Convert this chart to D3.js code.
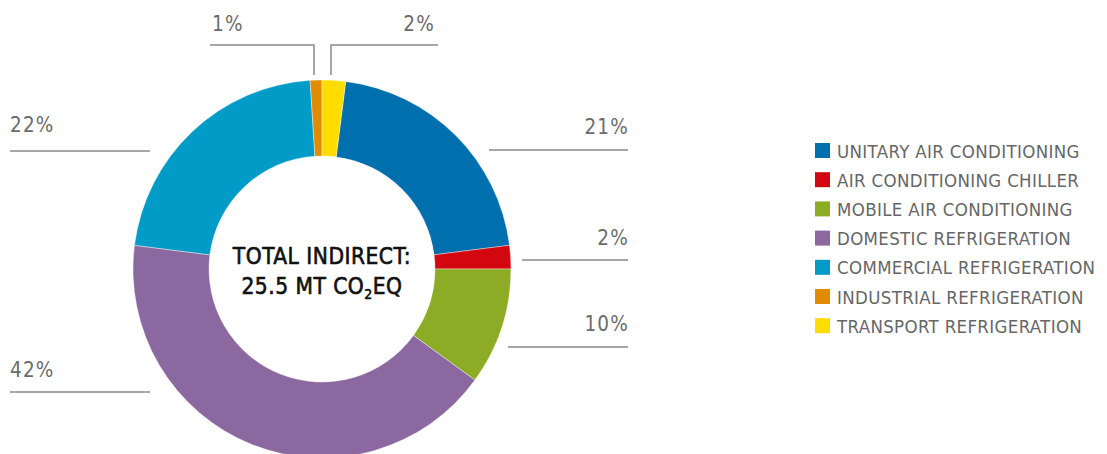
<!DOCTYPE html>
<html>
<head>
<meta charset="utf-8">
<script src="https://cdn.jsdelivr.net/npm/d3@7"></script>
<style>
  body { margin: 0; background: #fff; }
  text { font-family: "DejaVu Sans Condensed", "DejaVu Sans", sans-serif; }
</style>
</head>
<body>
<svg id="chart" width="1107" height="454"></svg>
<script>
const categories = [
  "UNITARY AIR CONDITIONING",
  "AIR CONDITIONING CHILLER",
  "MOBILE AIR CONDITIONING",
  "DOMESTIC REFRIGERATION",
  "COMMERCIAL REFRIGERATION",
  "INDUSTRIAL REFRIGERATION",
  "TRANSPORT REFRIGERATION"
];
const shares = [21, 2, 10, 42, 22, 1, 2];
const colors = ["#006fae", "#d2070f", "#8dac25", "#8c68a0", "#009bc7", "#e18b00", "#ffdd00"];
const totalLines = ["TOTAL INDIRECT:", "25.5 MT CO"];

// where each percentage label sits (annotation layout, not data)
const labelLayout = [
  { side: "right", y: 150, ty: 134, x1: 489 },
  { side: "right", y: 260, ty: 245, x1: 522 },
  { side: "right", y: 347, ty: 331, x1: 508 },
  { side: "left", y: 392, ty: 377, x2: 150 },
  { side: "left", y: 151, ty: 132, x2: 150 },
  { side: "top", y: 45, ty: 31, xv: 314, x0: 210 },
  { side: "top", y: 45, ty: 31, xv: 331, x0: 438 }
];

const svg = d3.select("#chart");
const cx = 322, cy = 269;
const outerR = 189, innerR = 113;

const total = d3.sum(shares);
// transport slice straddles 12 o'clock, so offset the start by its share
const offset = (shares[shares.length - 1] / total) * 2 * Math.PI;

const pie = d3.pie().sort(null).startAngle(offset).endAngle(offset + 2 * Math.PI);
const arc = d3.arc().innerRadius(innerR).outerRadius(outerR);

const g = svg.append("g").attr("transform", `translate(${cx},${cy})`);

g.selectAll("path")
  .data(pie(shares))
  .enter()
  .append("path")
  .attr("d", arc)
  .attr("fill", (d, i) => colors[i])
  .attr("stroke", "#fff")
  .attr("stroke-width", 0.4);

// leader lines and percentage labels
const lineColor = "#8a8a8a";
const labelColor = "#6b6b6b";

function pctLabel(x, y, anchor, txt) {
  svg.append("text").attr("x", x).attr("y", y).attr("text-anchor", anchor)
    .attr("font-size", 20.5).attr("fill", labelColor).attr("letter-spacing", 1.2).text(txt);
}

labelLayout.forEach((l, i) => {
  const txt = shares[i] + "%";
  if (l.side === "right") {
    svg.append("line").attr("x1", l.x1).attr("x2", 628).attr("y1", l.y).attr("y2", l.y)
      .attr("stroke", lineColor).attr("stroke-width", 1.5);
    pctLabel(629, l.ty, "end", txt);
  } else if (l.side === "left") {
    svg.append("line").attr("x1", 10).attr("x2", l.x2).attr("y1", l.y).attr("y2", l.y)
      .attr("stroke", lineColor).attr("stroke-width", 1.5);
    pctLabel(10, l.ty, "start", txt);
  } else {
    svg.append("path")
      .attr("d", `M${l.x0},${l.y}H${l.xv}V${cy - outerR - 5}`)
      .attr("fill", "none").attr("stroke", lineColor).attr("stroke-width", 1.5);
    const left = l.x0 < l.xv;
    pctLabel(left ? l.x0 + 2 : l.x0 - 3, l.ty, left ? "start" : "end", txt);
  }
});

// centre text
const center = svg.append("g").attr("transform", `translate(${cx},${cy})`);
center.append("text").attr("text-anchor", "middle").attr("y", -5)
  .attr("font-size", 22.5).attr("fill", "#111").attr("stroke", "#111").attr("stroke-width", 0.6)
  .attr("letter-spacing", 0.5).text(totalLines[0]);
const t2 = center.append("text").attr("text-anchor", "middle").attr("y", 25)
  .attr("font-size", 22.5).attr("fill", "#111").attr("stroke", "#111").attr("stroke-width", 0.6)
  .attr("letter-spacing", 0.5);
t2.append("tspan").text(totalLines[1]);
t2.append("tspan").attr("font-size", 14).attr("dy", 5).text("2");
t2.append("tspan").attr("dy", -5).text("EQ");

// legend
const legend = svg.append("g").attr("transform", "translate(815,143)");
const rows = legend.selectAll("g")
  .data(categories)
  .enter()
  .append("g")
  .attr("transform", (d, i) => `translate(0,${i * 29.2})`);
rows.append("rect").attr("width", 15).attr("height", 15)
  .attr("fill", (d, i) => colors[i]);
rows.append("text").attr("x", 22).attr("y", 14.5)
  .attr("font-size", 18.5).attr("fill", "#666").attr("letter-spacing", 0.35)
  .text(d => d);
</script>
</body>
</html>
